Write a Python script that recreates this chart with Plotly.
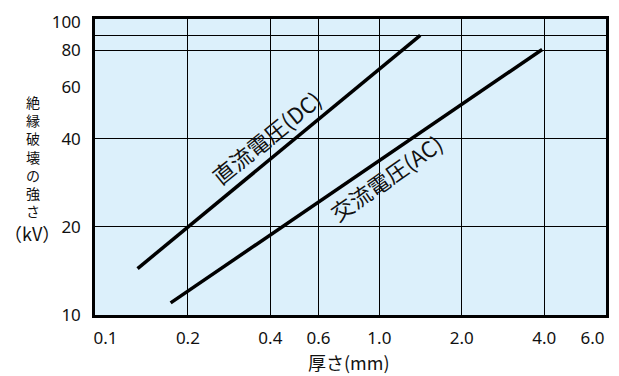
import numpy as np
import plotly.graph_objects as go

# Breakdown strength vs. thickness (log-log)
thickness_dc = [0.131, 1.41]
kv_dc = [14.4, 90.0]
thickness_ac = [0.173, 3.93]
kv_ac = [11.0, 80.5]

x_tick_vals = [0.1, 0.2, 0.4, 0.6, 1.0, 2.0, 4.0, 6.0]
x_tick_text = ["0.1", "0.2", "0.4", "0.6", "1.0", "2.0", "4.0", "6.0"]
x_grid_vals = [0.2, 0.4, 0.6, 1.0, 2.0, 4.0]
y_tick_vals = [10, 20, 40, 60, 80, 100]
y_tick_text = ["10", "20", "40", "60", "80", "100"]
y_grid_vals = [20, 40, 80, 90]

y_title_chars = list("絶縁破壊の強さ")
y_title_unit = "（kV）"
x_title = "厚さ(mm)"

FONT = "Noto Sans CJK JP"
INK = "#111111"

W, H = 619, 376
L, R, T, B = 95, 10, 18, 61
pw, ph = W - L - R, H - T - B


def to_paper(px, py):
    return (px - L) / pw, (H - B - py) / ph


fig = go.Figure()
for xs, ys in [(thickness_dc, kv_dc), (thickness_ac, kv_ac)]:
    fig.add_trace(go.Scatter(x=xs, y=ys, mode="lines",
                             line=dict(color="black", width=3.5),
                             showlegend=False, hoverinfo="skip"))

# Curve labels written along each line
fig.add_annotation(x=np.log10(0.385), y=np.log10(40.5), xref="x", yref="y",
                   text="直流電圧(DC)", textangle=-39, showarrow=False,
                   font=dict(family=FONT, size=22, color=INK))
fig.add_annotation(x=np.log10(1.06), y=np.log10(29.5), xref="x", yref="y",
                   text="交流電圧(AC)", textangle=-35, showarrow=False,
                   font=dict(family=FONT, size=22, color=INK))

# Vertical y-axis title, one character per row
xa, ya = to_paper(33, 89)
fig.add_annotation(x=xa, y=ya, xref="paper", yref="paper",
                   xanchor="center", yanchor="top",
                   text="<br>".join(y_title_chars),
                   showarrow=False, font=dict(family=FONT, size=14, color=INK))
xa, ya = to_paper(32, 233)
fig.add_annotation(x=xa, y=ya, xref="paper", yref="paper",
                   xanchor="center", yanchor="middle", text=y_title_unit,
                   showarrow=False, font=dict(family=FONT, size=18, color=INK))
xa, ya = to_paper(350, 362)
fig.add_annotation(x=xa, y=ya, xref="paper", yref="paper",
                   xanchor="center", yanchor="middle", text=x_title,
                   showarrow=False, font=dict(family=FONT, size=18, color=INK))

axis_common = dict(
    type="log", showline=True, linecolor="black", linewidth=2.5, mirror=True,
    ticks="", showgrid=False, zeroline=False,
    tickfont=dict(family="Noto Sans", size=17, color=INK),
)

fig.update_xaxes(**axis_common, range=[np.log10(0.0916), np.log10(6.72)],
                 tickvals=x_tick_vals, ticktext=x_tick_text, ticklabelstandoff=6,
                 minor=dict(tickvals=x_grid_vals, showgrid=True,
                            gridcolor="black", gridwidth=1, ticks=""))
fig.update_yaxes(**axis_common, range=[1, 2.01],
                 tickvals=y_tick_vals, ticktext=y_tick_text, ticklabelstandoff=8,
                 minor=dict(tickvals=y_grid_vals, showgrid=True,
                            gridcolor="black", gridwidth=1, ticks=""))

fig.update_layout(
    width=W, height=H,
    margin=dict(l=L, r=R, t=T, b=B),
    paper_bgcolor="white", plot_bgcolor="#dcf0fb",
    font=dict(family=FONT, color=INK),
)

fig.write_html("out.html")
